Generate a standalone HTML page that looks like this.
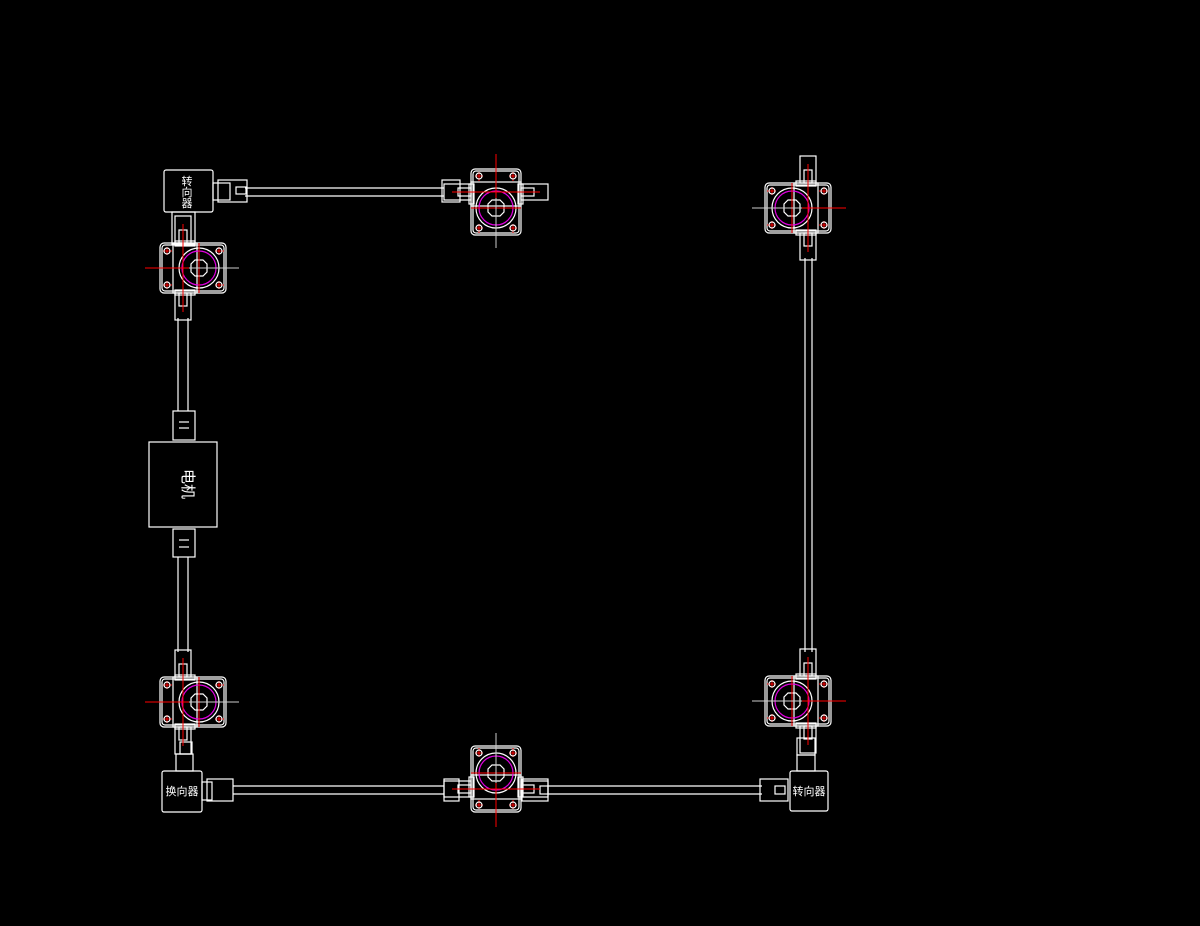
<!DOCTYPE html>
<html><head><meta charset="utf-8"><style>
html,body{margin:0;padding:0;background:#000;width:1200px;height:926px;overflow:hidden}
svg{display:block}
text{font-family:"Liberation Sans","Noto Sans CJK SC",sans-serif;fill:#fff}
</style></head><body>
<svg width="1200" height="926" viewBox="0 0 1200 926" xmlns="http://www.w3.org/2000/svg">
<defs>
<g id="gb" fill="none" stroke="#fff" stroke-width="1.2">
  <rect x="-24" y="-52" width="16" height="27"/>
  <rect x="-24" y="25" width="16" height="27"/>
  <rect x="-20" y="-38" width="8" height="13"/>
  <rect x="-20" y="25" width="8" height="13"/>
  <rect x="-39" y="-25" width="66" height="50" rx="4"/>
  <rect x="-37" y="-23" width="62" height="46" rx="3"/>
  <rect x="-26" y="-25" width="24" height="50"/>
  <rect x="-24" y="-27" width="20" height="5"/>
  <rect x="-24" y="22" width="20" height="5"/>
  <circle r="20"/>
  <circle r="17" stroke="#e000e0"/>
  <polygon points="-4,-8 4,-8 8,-4 8,4 4,8 -4,8 -8,4 -8,-4"/>
  <g stroke="#f00" stroke-width="1">
    <line x1="-54" y1="0" x2="30" y2="0"/>
    <line x1="0" y1="-25" x2="0" y2="25"/>
    <line x1="-16" y1="-44" x2="-16" y2="44"/>
    <line x1="-36" y1="-17" x2="-27" y2="-17"/><line x1="-32" y1="-21" x2="-32" y2="-13"/>
    <line x1="-36" y1="17" x2="-27" y2="17"/><line x1="-32" y1="13" x2="-32" y2="21"/>
    <line x1="16" y1="-17" x2="25" y2="-17"/><line x1="20" y1="-21" x2="20" y2="-13"/>
    <line x1="16" y1="17" x2="25" y2="17"/><line x1="20" y1="13" x2="20" y2="21"/>
  </g>
  <circle cx="-32" cy="-17" r="3"/><circle cx="-32" cy="17" r="3"/>
  <circle cx="20" cy="-17" r="3"/><circle cx="20" cy="17" r="3"/>
  <line x1="-10" y1="0" x2="40" y2="0" stroke="#ccc" stroke-width="1"/>
</g>
</defs>
<g fill="none" stroke="#fff" stroke-width="1.2">
  <line x1="178" y1="318" x2="178" y2="411"/><line x1="188" y1="318" x2="188" y2="411"/>
  <line x1="178" y1="557" x2="178" y2="652"/><line x1="188" y1="557" x2="188" y2="652"/>
  <line x1="805" y1="258" x2="805" y2="652"/><line x1="812" y1="258" x2="812" y2="652"/>
  <line x1="245" y1="188" x2="444" y2="188"/><line x1="245" y1="196" x2="444" y2="196"/>
  <line x1="233" y1="786" x2="444" y2="786"/><line x1="233" y1="794" x2="444" y2="794"/>
  <line x1="548" y1="786" x2="762" y2="786"/><line x1="548" y1="794" x2="762" y2="794"/>
  <rect x="164" y="170" width="49" height="42" rx="2"/>
  <rect x="213" y="183" width="17" height="17"/>
  <rect x="218" y="180" width="29" height="22"/>
  <rect x="236" y="187" width="10" height="7"/>
  <rect x="172" y="212" width="23" height="32"/>
  <rect x="173" y="411" width="22" height="29"/>
  <line x1="179" y1="422" x2="189" y2="422"/><line x1="179" y1="428" x2="189" y2="428"/>
  <rect x="149" y="442" width="68" height="85"/>
  <rect x="173" y="529" width="22" height="28"/>
  <line x1="179" y1="540" x2="189" y2="540"/><line x1="179" y1="547" x2="189" y2="547"/>
  <rect x="162" y="771" width="40" height="41" rx="2"/>
  <rect x="202" y="782" width="10" height="18"/>
  <rect x="207" y="779" width="26" height="22"/>
  <rect x="176" y="754" width="17" height="17"/>
  <rect x="180" y="742" width="12" height="12"/>
  <rect x="444" y="779" width="15" height="22"/>
  <rect x="522" y="779" width="26" height="22"/>
  <rect x="540" y="786" width="8" height="8"/>
  <rect x="442" y="180" width="18" height="22"/>
  <rect x="790" y="771" width="38" height="40" rx="2"/>
  <rect x="760" y="779" width="28" height="22"/>
  <rect x="775" y="786" width="10" height="8"/>
  <rect x="797" y="755" width="18" height="16"/>
  <rect x="797" y="738" width="18" height="17"/>
</g>
<use href="#gb" transform="translate(199,268)"/>
<use href="#gb" transform="translate(199,702)"/>
<use href="#gb" transform="translate(792,208) scale(-1,1)"/>
<use href="#gb" transform="translate(792,701) scale(-1,1)"/>
<use href="#gb" transform="translate(496,208) rotate(90)"/>
<use href="#gb" transform="translate(496,773) rotate(-90)"/>
<text x="187" y="185" font-size="11" text-anchor="middle">转</text>
<text x="187" y="196" font-size="11" text-anchor="middle">向</text>
<text x="187" y="207" font-size="11" text-anchor="middle">器</text>
<text x="182" y="795" font-size="11" text-anchor="middle">换向器</text>
<text x="809" y="795" font-size="11" text-anchor="middle">转向器</text>
<text x="183" y="484" font-size="15" text-anchor="middle" transform="rotate(90 183 484)">电机</text>
</svg>
</body></html>
